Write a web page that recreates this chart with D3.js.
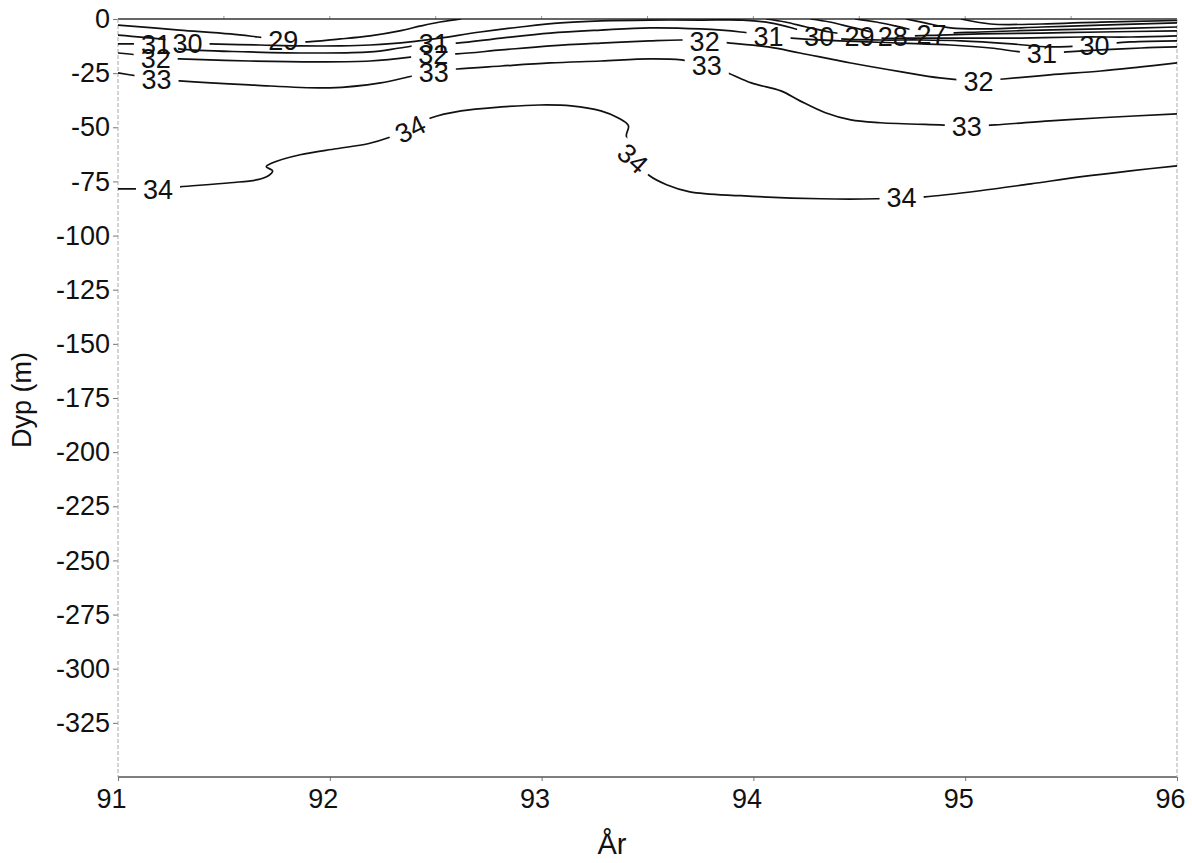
<!DOCTYPE html>
<html>
<head>
<meta charset="utf-8">
<script src="https://cdnjs.cloudflare.com/ajax/libs/d3/7.8.5/d3.min.js"></script>
<style>
  body { margin: 0; background: #fff; }
  svg { display: block; font-family: "Liberation Sans", Arial, sans-serif; }
  .contour { fill: none; stroke: #111; stroke-width: 1.7px; stroke-linejoin: round; }
  .clabel { font-size: 27px; fill: #111; }
  .tick text { font-size: 27px; fill: #111; font-family: "Liberation Sans", Arial, sans-serif; }
  .tick line { stroke: #777; }
  .axis-title { font-size: 27px; fill: #111; }
</style>
</head>
<body>
<div class="content"></div>
<script>
// VARIABLES
var w = 1192,
    h = 863;

// DATA (year, depth in m)
var xTicks = [91, 92, 93, 94, 95, 96];
var yTicks = [0, -25, -50, -75, -100, -125, -150, -175, -200, -225, -250, -275, -300, -325];
var topTicks = [91.5, 92, 92.5, 93, 93.5, 94, 94.5, 95, 95.5];

var c25 = [[94.98,0],[95.12,-2.3],[95.36,-2.3],[95.64,-1.4],[96.00,-0.7]];
var c26 = [[94.72,0],[94.81,-1.8],[94.93,-4.1],[95.07,-4.6],[95.36,-3.7],[95.64,-2.8],[96.00,-1.8]];
var c27 = [[94.48,0],[94.58,-1.4],[94.67,-3.2],[94.77,-5.5],[94.84,-6.9],[94.91,-6.5],[95.07,-6.0],
           [95.36,-5.1],[95.64,-4.6],[96.00,-3.7]];
var c28 = [[94.27,0],[94.36,-1.4],[94.46,-3.7],[94.58,-6.5],[94.66,-7.8],[94.74,-7.8],[94.88,-7.4],
           [95.07,-6.9],[95.36,-6.5],[95.64,-6.0],[96.00,-5.5]];
var c29a = [[91.00,-2.8],[91.29,-5.1],[91.53,-6.9],[91.66,-8.3],[91.78,-9.7],[91.87,-10.6],[92.05,-9.2],
            [92.19,-7.8],[92.33,-5.5],[92.43,-3.2],[92.52,-1.4],[92.62,0]];
var c29b = [[94.06,0],[94.15,-1.4],[94.25,-3.7],[94.36,-6.0],[94.50,-7.8],[94.60,-8.8],[94.79,-8.8],
            [94.98,-8.8],[95.26,-8.8],[95.55,-8.3],[95.78,-8.3],[96.00,-7.8]];
var c30 = [[91.00,-7.4],[91.20,-9.2],[91.33,-11.1],[91.43,-11.5],[91.67,-12.0],[91.86,-12.4],[92.05,-12.4],
           [92.19,-12.0],[92.38,-10.6],[92.52,-8.8],[92.71,-6.0],[92.90,-3.7],[93.09,-1.8],[93.28,-0.9],
           [93.51,-0.5],[93.75,-0.5],[93.95,-0.5],[94.08,-1.8],[94.20,-4.6],[94.31,-7.8],[94.41,-9.2],
           [94.60,-9.7],[94.79,-9.7],[94.98,-10.1],[95.22,-11.5],[95.40,-12.9],[95.61,-12.0],[95.78,-10.6],
           [96.00,-10.1]];
var c31 = [[91.00,-11.5],[91.09,-11.5],[91.18,-11.5],[91.29,-13.8],[91.62,-15.2],[91.95,-15.7],[92.19,-15.2],
           [92.33,-13.4],[92.49,-11.1],[92.60,-11.1],[92.81,-8.8],[93.04,-6.5],[93.28,-5.1],[93.51,-4.1],
           [93.75,-4.6],[93.94,-6.0],[94.07,-7.8],[94.18,-8.8],[94.41,-10.1],[94.70,-11.1],[94.93,-12.0],
           [95.12,-13.4],[95.26,-15.2],[95.36,-15.7],[95.48,-15.2],[95.64,-14.3],[95.83,-13.4],[96.00,-12.9]];
var c32 = [[91.00,-15.7],[91.09,-16.6],[91.18,-18.0],[91.29,-18.4],[91.62,-19.4],[91.95,-19.8],[92.19,-19.4],
           [92.39,-17.5],[92.49,-16.1],[92.60,-16.1],[92.81,-14.3],[93.04,-12.4],[93.28,-11.1],[93.51,-10.1],
           [93.66,-9.7],[93.77,-10.1],[93.89,-11.1],[94.07,-12.9],[94.22,-15.7],[94.46,-20.3],[94.70,-24.4],
           [94.88,-27.2],[95.06,-28.6],[95.18,-27.7],[95.40,-25.8],[95.64,-24.0],[95.83,-22.1],[96.00,-20.3]];
var c33 = [[91.00,-24.9],[91.09,-26.3],[91.18,-27.7],[91.29,-28.6],[91.62,-30.4],[92.00,-31.8],[92.24,-29.5],
           [92.39,-26.3],[92.49,-24.4],[92.60,-23.1],[92.81,-21.7],[93.04,-20.3],[93.28,-19.4],[93.51,-18.4],
           [93.66,-18.9],[93.78,-21.2],[93.88,-24.9],[93.99,-29.5],[94.13,-33.2],[94.22,-37.8],[94.34,-43.3],
           [94.46,-46.6],[94.60,-47.9],[94.88,-48.9],[95.01,-49.3],[95.14,-48.9],[95.40,-47.0],[95.64,-45.6],
           [96.00,-43.8]];
var c34 = [[91.00,-78.4],[91.10,-78.4],[91.19,-78.4],[91.29,-77.5],[91.53,-75.6],[91.66,-74.2],[91.71,-72.4],
           [91.73,-70.1],[91.70,-68.2],[91.73,-66.4],[91.86,-62.7],[92.03,-59.9],[92.18,-57.6],[92.29,-54.4],
           [92.38,-50.7],[92.48,-45.6],[92.62,-42.4],[92.81,-40.6],[92.99,-39.7],[93.14,-40.1],[93.28,-42.4],
           [93.36,-45.6],[93.41,-49.3],[93.40,-53.9],[93.43,-64.1],[93.51,-72.4],[93.59,-76.5],[93.70,-79.8],
           [93.94,-81.6],[94.32,-83.0],[94.58,-83.0],[94.70,-82.5],[94.81,-82.1],[95.07,-79.3],[95.31,-76.1],
           [95.55,-72.8],[95.78,-70.1],[96.00,-67.8]];

// label anchors (year, depth) on each contour
var lab27 = [[94.84,-6.9]];
var lab28 = [[94.66,-7.8]];
var lab29a = [[91.78,-9.7]];
var lab29b = [[94.50,-7.8]];
var lab30 = [[91.33,-11.1],[94.31,-7.8],[95.61,-12.0]];
var lab31 = [[91.18,-11.5],[92.49,-11.1],[94.07,-7.8],[95.36,-15.7]];
var lab32 = [[91.18,-18.0],[92.49,-16.1],[93.77,-10.1],[95.06,-28.6]];
var lab33 = [[91.18,-27.7],[92.49,-24.4],[93.78,-21.2],[95.01,-49.3]];
var lab34 = [[91.19,-78.4],[92.38,-50.7],[93.43,-64.1],[94.70,-82.5]];

var contours = [
    {level: 25, pts: c25, labels: []},
    {level: 26, pts: c26, labels: []},
    {level: 27, pts: c27, labels: lab27},
    {level: 28, pts: c28, labels: lab28},
    {level: 29, pts: c29a, labels: lab29a},
    {level: 29, pts: c29b, labels: lab29b},
    {level: 30, pts: c30, labels: lab30},
    {level: 31, pts: c31, labels: lab31},
    {level: 32, pts: c32, labels: lab32},
    {level: 33, pts: c33, labels: lab33},
    {level: 34, pts: c34, labels: lab34}
];


// PREPARE SVG
var svg = d3.select('.content').append('svg')
    .attr('width', w)
    .attr('height', h);

var defs = svg.append('defs');


// SCALES
var x = d3.scaleLinear().domain([91, 96]).range([118, 1177]);
var y = d3.scaleLinear().domain([0, -350]).range([19, 777]);

defs.append('clipPath').attr('id', 'plot')
    .append('rect')
    .attr('x', x(91)).attr('y', y(0))
    .attr('width', x(96) - x(91)).attr('height', y(-350) - y(0));

var line = d3.line()
    .x(function(d) { return x(d[0]); })
    .y(function(d) { return y(d[1]); })
    .curve(d3.curveCatmullRom.alpha(0.5));


// AXES
var yAxis = svg.append('g')
    .attr('transform', 'translate(' + x(91) + ',0)')
    .call(d3.axisLeft(y).tickValues(yTicks).tickSize(5).tickPadding(3)
        .tickFormat(function(d) { return String(d); }));
yAxis.select('.domain').remove();

var xAxis = svg.append('g')
    .attr('transform', 'translate(0,' + y(-350) + ')')
    .call(d3.axisBottom(x).tickValues(xTicks).tickSize(4).tickPadding(8)
        .tickFormat(function(d) { return String(d); }));
xAxis.select('.domain').remove();
xAxis.selectAll('.tick text').attr('dx', -7);

svg.append('g').selectAll('line')
    .data(topTicks).enter().append('line')
    .attr('x1', function(d) { return x(d); }).attr('x2', function(d) { return x(d); })
    .attr('y1', y(0)).attr('y2', y(0) - 3)
    .attr('stroke', '#999');

// frame
svg.append('line').attr('x1', x(91)).attr('x2', x(96)).attr('y1', y(0)).attr('y2', y(0))
    .attr('stroke', '#333').attr('stroke-width', 1.5);
svg.append('line').attr('x1', x(91)).attr('x2', x(96)).attr('y1', y(-350)).attr('y2', y(-350))
    .attr('stroke', '#555').attr('stroke-width', 1.5);
[91, 96].forEach(function(v) {
    svg.append('line').attr('x1', x(v)).attr('x2', x(v)).attr('y1', y(0)).attr('y2', y(-350))
        .attr('stroke', '#aaa').attr('stroke-width', 1).attr('stroke-dasharray', '4,2');
});

svg.append('text').attr('class', 'axis-title')
    .attr('x', 612).attr('y', 854)
    .attr('text-anchor', 'middle')
    .style('font-size', '29px')
    .text('År');

svg.append('text').attr('class', 'axis-title')
    .attr('transform', 'translate(31,400) rotate(-90)')
    .attr('text-anchor', 'middle')
    .text('Dyp (m)');


// CONTOURS AND LABELS
var plot = svg.append('g').attr('clip-path', 'url(#plot)');
var labelLayer = svg.append('g');

contours.forEach(function(c, i) {
    var path = plot.append('path')
        .attr('class', 'contour')
        .attr('d', line(c.pts));

    if (!c.labels.length) return;

    var node = path.node(),
        len = node.getTotalLength();

    var mask = defs.append('mask').attr('id', 'm' + i)
        .attr('maskUnits', 'userSpaceOnUse')
        .attr('x', 0).attr('y', 0).attr('width', w).attr('height', h);
    mask.append('rect').attr('width', w).attr('height', h).attr('fill', '#fff');

    c.labels.forEach(function(l) {
        var px = x(l[0]), py = y(l[1]);
        var best = 0, bd = Infinity;
        for (var s = 0; s <= len; s += 1) {
            var p = node.getPointAtLength(s);
            var dd = (p.x - px) * (p.x - px) + (p.y - py) * (p.y - py);
            if (dd < bd) { bd = dd; best = s; }
        }
        var pc = node.getPointAtLength(best),
            p0 = node.getPointAtLength(Math.max(0, best - 10)),
            p1 = node.getPointAtLength(Math.min(len, best + 10));
        var ang = Math.atan2(p1.y - p0.y, p1.x - p0.x) * 180 / Math.PI;
        // labels stay level unless the line is steep
        if (Math.abs(ang) < 20) ang = 0;
        ang = Math.max(-45, Math.min(42, ang));

        var t = labelLayer.append('text')
            .attr('class', 'clabel')
            .attr('text-anchor', 'middle')
            .attr('dy', '0.36em')
            .attr('transform', 'translate(' + pc.x + ',' + pc.y + ') rotate(' + ang + ')')
            .text(c.level);
        var tw = t.node().getComputedTextLength() + 14;

        mask.append('rect')
            .attr('x', -tw / 2).attr('y', -11)
            .attr('width', tw).attr('height', 22)
            .attr('fill', '#000')
            .attr('transform', 'translate(' + pc.x + ',' + pc.y + ') rotate(' + ang + ')');
    });

    path.attr('mask', 'url(#m' + i + ')');
});
</script>
</body>
</html>
